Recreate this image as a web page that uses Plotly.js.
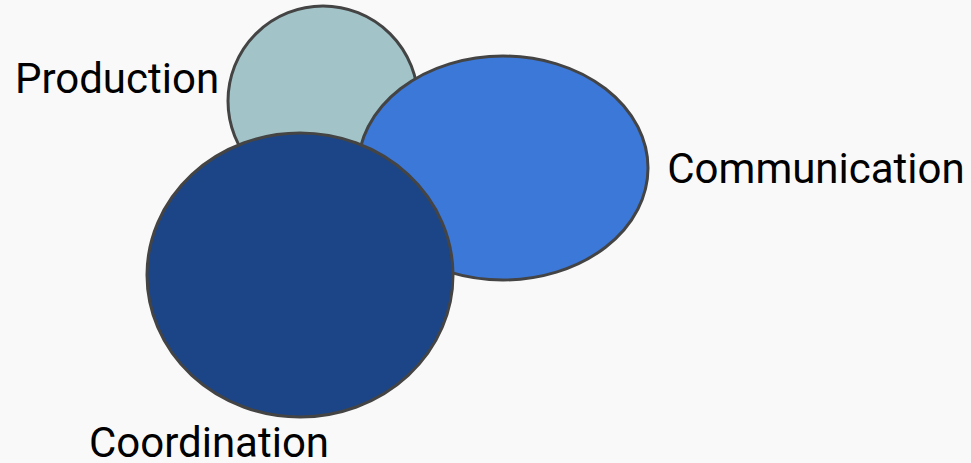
<!DOCTYPE html>
<html>
<head>
<meta charset="utf-8">
<script src="https://cdn.plot.ly/plotly-3.0.1.min.js"></script>
<style>html,body{margin:0;padding:0;background:#f9f9f9;}#chart{width:971px;height:463px;}</style>
</head>
<body>
<div id="chart"></div>
<script>
// Set names and the geometry of each set's ellipse (chart units)
const setNames   = ["Production", "Communication", "Coordination"];
const centerX    = [323, 503, 300];
const centerY    = [101, 168, 275];
const radiusX    = [95, 145, 153];
const radiusY    = [95, 112, 142];
const setColors  = ["#a2c4c9", "#3c78d8", "#1c4587"];
// Label anchor points
const labelX     = [117, 816, 209];
const labelY     = [82, 172, 446];

const shapes = setNames.map((n, i) => ({
  type: "circle", xref: "x", yref: "y", layer: "below",
  x0: centerX[i] - radiusX[i], x1: centerX[i] + radiusX[i],
  y0: centerY[i] - radiusY[i], y1: centerY[i] + radiusY[i],
  fillcolor: setColors[i],
  line: {color: "#444444", width: 3}
}));

const trace = {
  type: "scatter", mode: "text",
  x: labelX, y: labelY, text: setNames,
  textposition: "middle center",
  textfont: {family: "Roboto", size: 42, color: "#000000"},
  hoverinfo: "skip", showlegend: false, cliponaxis: false
};

const layout = {
  width: 971, height: 463,
  margin: {l: 0, r: 0, t: 0, b: 0},
  paper_bgcolor: "#f9f9f9", plot_bgcolor: "#f9f9f9",
  xaxis: {range: [0, 971], visible: false, fixedrange: true},
  yaxis: {range: [463, 0], visible: false, fixedrange: true},
  shapes: shapes,
  showlegend: false
};

Plotly.newPlot("chart", [trace], layout, {displayModeBar: false, staticPlot: true});
</script>
</body>
</html>
